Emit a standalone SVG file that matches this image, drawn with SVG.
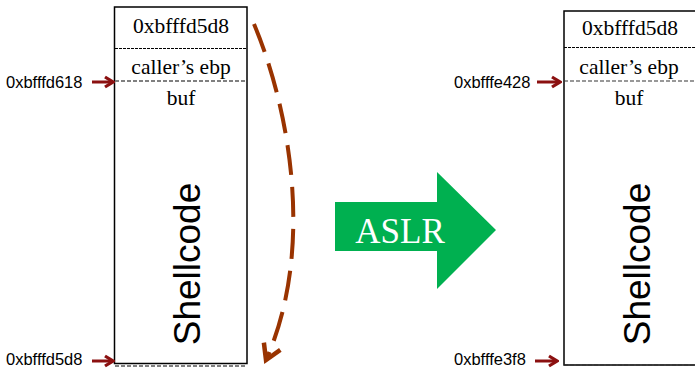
<svg xmlns="http://www.w3.org/2000/svg" width="695" height="368" viewBox="0 0 695 368">
<style>
.box{fill:#fff;stroke:#000;stroke-width:1.5}
.div{stroke:#000;stroke-width:1;stroke-dasharray:3 1}
.gdash{stroke:#808080;stroke-width:2;stroke-dasharray:4 2}
.ddash{stroke:#333;stroke-width:1.2;stroke-dasharray:4 2}
.cell{font-family:"Liberation Serif",serif;font-size:21.5px;fill:#000;text-anchor:middle}
.addr{font-family:"Liberation Sans",sans-serif;font-size:16.5px;fill:#000}
.shell{font-family:"Liberation Sans",sans-serif;font-size:37px;fill:#000;text-anchor:middle}
.ptr{stroke:#8B1010;stroke-width:3;fill:none;marker-end:url(#ah)}
</style>
<defs>
<marker id="ah" markerUnits="userSpaceOnUse" viewBox="0 0 14 14" refX="12" refY="7" markerWidth="14" markerHeight="14" orient="auto">
<path d="M4,2 L12,7 L4,12" fill="none" stroke="#8B1010" stroke-width="3.2"/>
</marker>
<marker id="ch" markerUnits="userSpaceOnUse" viewBox="0 0 24 24" refX="20" refY="12" markerWidth="24" markerHeight="24" orient="auto">
<path d="M5,3 L20,12 L5,21" fill="none" stroke="#993300" stroke-width="4.5"/>
</marker>
</defs>

<g id="stack-left">
<rect class="box" x="114.5" y="7" width="132.5" height="356.5"/>
<line class="div" x1="115" y1="48.5" x2="247" y2="48.5"/>
<line class="gdash" x1="115" y1="81" x2="247" y2="81"/>
<line class="gdash" x1="115" y1="366" x2="247" y2="366"/>
<text class="cell" x="181" y="33">0xbfffd5d8</text>
<text class="cell" x="181" y="74">caller’s ebp</text>
<text class="cell" x="181" y="105">buf</text>
<text class="shell" transform="translate(200,264) rotate(-90)">Shellcode</text>
</g>

<g id="stack-right">
<rect class="box" x="564" y="11" width="140" height="354" />
<line class="div" x1="564" y1="47.5" x2="695" y2="47.5"/>
<line class="ddash" x1="564" y1="81" x2="695" y2="81"/>
<line class="ddash" x1="564" y1="365" x2="695" y2="365"/>
<text class="cell" x="630" y="35">0xbfffd5d8</text>
<text class="cell" x="629" y="74">caller’s ebp</text>
<text class="cell" x="629" y="105">buf</text>
<text class="shell" transform="translate(650,264) rotate(-90)">Shellcode</text>
</g>

<g id="label-left-top"><text class="addr" x="6" y="88">0xbfffd618</text></g>
<g id="label-left-bottom"><text class="addr" x="6" y="365">0xbfffd5d8</text></g>
<g id="label-right-top"><text class="addr" x="454" y="88">0xbfffe428</text></g>
<g id="label-right-bottom"><text class="addr" x="454" y="365">0xbfffe3f8</text></g>

<g id="aslr">
<polygon points="335,202 437,202 437,172 496,230 437,289 437,251 335,251" fill="#00B050"/>
<text x="400" y="243" font-family="Liberation Serif,serif" font-size="35" fill="#fff" text-anchor="middle">ASLR</text>
</g>

<g id="connectors">
<line class="ptr" x1="92" y1="82" x2="113" y2="82"/>
<line class="ptr" x1="92" y1="361" x2="113" y2="361"/>
<line class="ptr" x1="537" y1="82" x2="560" y2="82"/>
<line class="ptr" x1="535" y1="361" x2="557" y2="361"/>
<path d="M254,24 C290,110 315,250 266,360" fill="none" stroke="#993300" stroke-width="4" stroke-dasharray="30 12" marker-end="url(#ch)"/>
</g>
</svg>
